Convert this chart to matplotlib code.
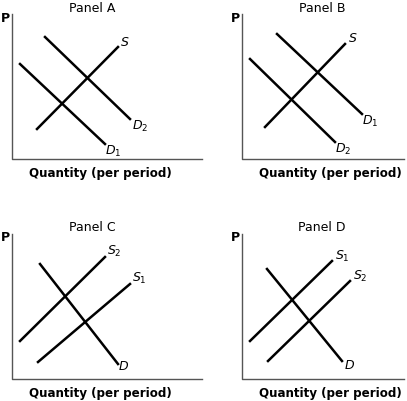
import matplotlib.pyplot as plt

# panel layout in pixel coords of the original picture (y down)
panel_titles = ["Panel A", "Panel B", "Panel C", "Panel D"]
panel_origins = [(12, 160), (242, 160), (12, 380), (242, 380)]
axis_height = 145
axis_widths = [190, 162, 190, 162]

# curves: (label, subscript, x0, y0, x1, y1, label_x, label_y)
curves = [
    [("S", "", 37, 130, 118, 48, 125, 42), ("D", "2", 45, 38, 130, 120, 140, 126),
     ("D", "1", 20, 65, 105, 145, 113, 151)],
    [("S", "", 265, 128, 345, 45, 353, 38), ("D", "1", 277, 35, 362, 115, 370, 121),
     ("D", "2", 250, 60, 335, 143, 343, 149)],
    [("S", "2", 20, 342, 105, 258, 114, 251), ("S", "1", 38, 363, 130, 285, 139, 278),
     ("D", "", 40, 265, 118, 365, 124, 367)],
    [("S", "1", 250, 342, 332, 262, 342, 256), ("S", "2", 268, 362, 350, 282, 360, 276),
     ("D", "", 267, 270, 342, 362, 350, 366)],
]

fig = plt.figure(figsize=(4.07, 4.02), dpi=100)
ax = fig.add_axes([0, 0, 1, 1])
ax.set_xlim(0, 407)
ax.set_ylim(402, 0)
ax.axis("off")

for title, (ox, oy), aw, lines in zip(panel_titles, panel_origins, axis_widths, curves):
    ax.plot([ox, ox, ox + aw], [oy - axis_height, oy, oy], color="#555555", lw=1)
    ax.text(ox + 80, oy - axis_height - 7, title, ha="center", va="center", fontsize=9)
    ax.text(ox - 7, oy - axis_height + 3, "P", ha="center", va="center", fontsize=9, fontweight="bold")
    ax.text(ox + 88, oy + 14, "Quantity (per period)", ha="center", va="center",
            fontsize=8.6, fontweight="bold")
    for name, sub, x0, y0, x1, y1, lx, ly in lines:
        ax.plot([x0, x1], [y0, y1], color="black", lw=1.8)
        label = f"$\\mathit{{{name}}}_{{{sub}}}$" if sub else f"$\\mathit{{{name}}}$"
        ax.text(lx, ly, label, ha="center", va="center", fontsize=9)

fig.savefig("out.png", dpi=100)
